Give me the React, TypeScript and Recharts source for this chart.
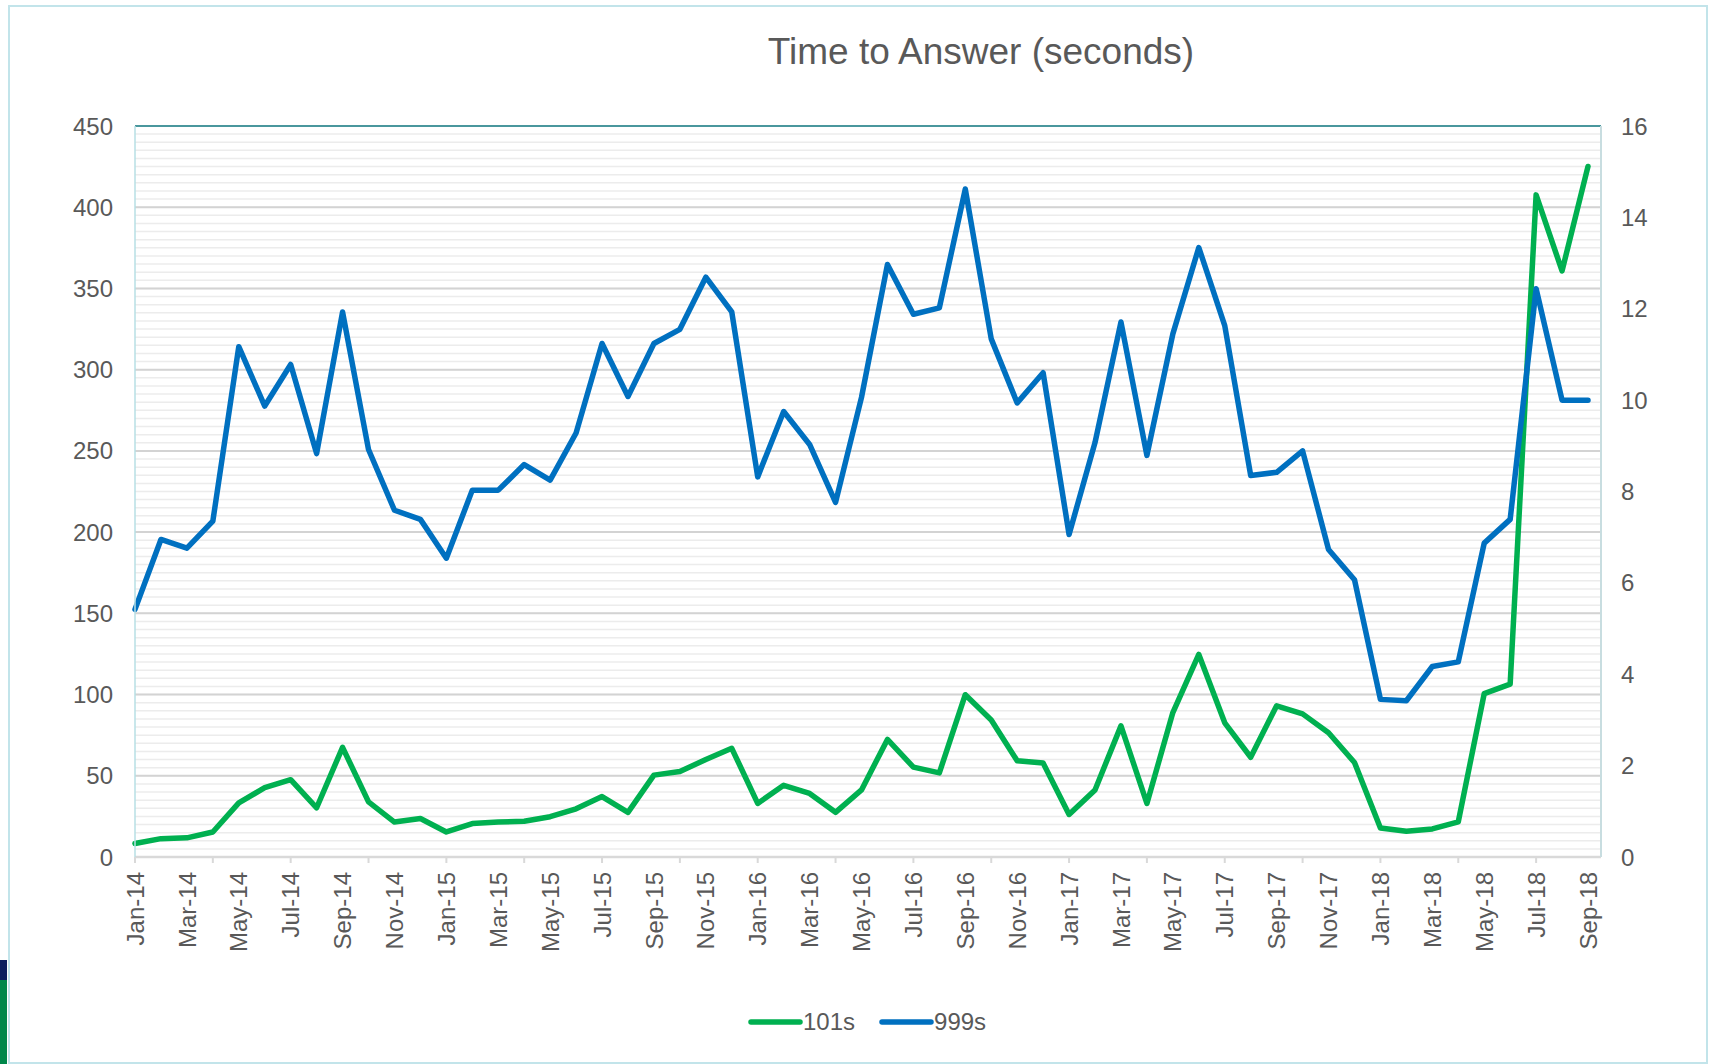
import React from "react";
import { CartesianGrid, Line, LineChart, ReferenceLine, XAxis, YAxis } from "recharts";

const MONTHS = [
  "Jan-14", "Feb-14", "Mar-14", "Apr-14", "May-14", "Jun-14", "Jul-14", "Aug-14", "Sep-14", "Oct-14", "Nov-14", "Dec-14",
  "Jan-15", "Feb-15", "Mar-15", "Apr-15", "May-15", "Jun-15", "Jul-15", "Aug-15", "Sep-15", "Oct-15", "Nov-15", "Dec-15",
  "Jan-16", "Feb-16", "Mar-16", "Apr-16", "May-16", "Jun-16", "Jul-16", "Aug-16", "Sep-16", "Oct-16", "Nov-16", "Dec-16",
  "Jan-17", "Feb-17", "Mar-17", "Apr-17", "May-17", "Jun-17", "Jul-17", "Aug-17", "Sep-17", "Oct-17", "Nov-17", "Dec-17",
  "Jan-18", "Feb-18", "Mar-18", "Apr-18", "May-18", "Jun-18", "Jul-18", "Aug-18", "Sep-18",
];

// 101s, seconds (left axis)
const CALLS_101 = [
  8.3, 11.3, 11.8, 15.4, 33.3, 42.7, 47.6, 30.3, 67.5, 33.9, 21.5, 23.7,
  15.4, 20.6, 21.5, 22.0, 24.8, 29.7, 37.2, 27.5, 50.4, 52.6, 60.0, 66.9,
  33.0, 44.1, 39.1, 27.5, 41.3, 72.4, 55.3, 51.8, 99.9, 84.3, 59.2, 57.8,
  26.2, 41.3, 80.7, 33.0, 88.9, 124.7, 82.6, 61.4, 93.1, 88.1, 76.5, 58.2,
  17.8, 15.8, 17.3, 21.6, 100.6, 106.4, 407.6, 360.8, 425.1,
];

// 999s, seconds (right axis)
const CALLS_999 = [
  5.42, 6.95, 6.76, 7.35, 11.17, 9.87, 10.78, 8.83, 11.93, 8.92, 7.59, 7.39,
  6.54, 8.03, 8.03, 8.59, 8.25, 9.28, 11.24, 10.08, 11.24, 11.55, 12.69, 11.93,
  8.32, 9.75, 9.03, 7.76, 10.06, 12.97, 11.88, 12.02, 14.62, 11.34, 9.94, 10.6,
  7.06, 9.07, 11.71, 8.79, 11.45, 13.34, 11.63, 8.35, 8.42, 8.89, 6.73, 6.07,
  3.45, 3.42, 4.17, 4.27, 6.87, 7.39, 12.44, 10.0, 10.0,
];

const LEFT_TICKS = [0, 50, 100, 150, 200, 250, 300, 350, 400, 450];
const RIGHT_TICKS = [0, 2, 4, 6, 8, 10, 12, 14, 16];
const MINOR_TICKS = Array.from({ length: 91 }, (_, i) => i * 5);

const SERIES = [
  { key: "s101", name: "101s", color: "#00b050" },
  { key: "s999", name: "999s", color: "#0070c0" },
];

const FONT = "'Liberation Sans', Arial, sans-serif";
const TEXT = "#595959";

const data = MONTHS.map((m, i) => ({ month: m, s101: CALLS_101[i], s999: CALLS_999[i] }));

function minorLines({ yAxis }: any) {
  const scale = yAxis?.scale;
  if (!scale) return [];
  const f = typeof scale === "function" ? scale : (v: number) => scale.map(v);
  return MINOR_TICKS.map((v) => f(v)).filter((v) => typeof v === "number" && !isNaN(v));
}

function MonthTick(props: any) {
  const { x, y, payload } = props;
  const i = payload.index ?? props.index;
  return (
    <g>
      {i % 3 === 0 && <line x1={x} x2={x} y1={y} y2={y + 6} stroke="#d9d9d9" strokeWidth={2} />}
      {i % 2 === 0 && (
        <text
          transform={`translate(${x},${y + 15}) rotate(-90)`}
          textAnchor="end"
          dy="0.36em"
          fill={TEXT}
          fontSize={24}
          fontFamily={FONT}
        >
          {payload.value}
        </text>
      )}
    </g>
  );
}

export default function App() {
  return (
    <div style={{ position: "absolute", left: 0, top: 0, width: 1709, height: 1064, background: "#fff", overflow: "hidden" }}>
      <div style={{ position: "absolute", left: 8, top: 5, width: 1696, height: 1055, border: "2px solid #c2e4ea" }} />
      <div style={{ position: "absolute", left: 0, top: 960, width: 7, height: 20, background: "#0d1f5e" }} />
      <div style={{ position: "absolute", left: 0, top: 980, width: 7, height: 84, background: "#00874a" }} />

      <div
        style={{
          position: "absolute",
          left: 581,
          top: 33,
          width: 800,
          textAlign: "center",
          fontFamily: FONT,
          fontSize: 37,
          lineHeight: "37px",
          color: TEXT,
        }}
      >
        Time to Answer (seconds)
      </div>

      <div style={{ position: "absolute", left: 0, top: 0 }}>
        <LineChart width={1709} height={1064} data={data} margin={{ top: 126, right: 0, bottom: 0, left: 0 }}>
          <XAxis
            dataKey="month"
            interval={0}
            height={207}
            padding={{ left: 0, right: 13 }}
            axisLine={{ stroke: "#d9d9d9", strokeWidth: 2.5 }}
            tickLine={false}
            tickSize={0}
            tickMargin={0}
            tick={<MonthTick />}
          />
          <YAxis
            yAxisId="left"
            width={135}
            domain={[0, 450]}
            ticks={LEFT_TICKS}
            interval={0}
            axisLine={{ stroke: "#b7dfe5", strokeWidth: 1.5 }}
            tickLine={false}
            tickSize={0}
            tickMargin={22}
            tick={{ fill: TEXT, fontSize: 24, fontFamily: FONT }}
          />
          <YAxis
            yAxisId="right"
            orientation="right"
            width={108}
            domain={[0, 16]}
            ticks={RIGHT_TICKS}
            interval={0}
            axisLine={{ stroke: "#c8dde0", strokeWidth: 2 }}
            tickLine={false}
            tickSize={0}
            tickMargin={20}
            tick={{ fill: TEXT, fontSize: 24, fontFamily: FONT }}
          />
          <CartesianGrid
            yAxisId="left"
            vertical={false}
            stroke="#ececec"
            strokeWidth={1.5}
            horizontalCoordinatesGenerator={minorLines}
          />
          <CartesianGrid yAxisId="left" vertical={false} stroke="#d3d3d3" strokeWidth={2} />
          <ReferenceLine yAxisId="left" y={450} stroke="#4a979d" strokeWidth={2} />
          <Line
            yAxisId="left"
            type="linear"
            dataKey="s101"
            stroke={SERIES[0].color}
            strokeWidth={5.5}
            strokeLinejoin="round"
            strokeLinecap="round"
            dot={false}
            isAnimationActive={false}
          />
          <Line
            yAxisId="right"
            type="linear"
            dataKey="s999"
            stroke={SERIES[1].color}
            strokeWidth={5.5}
            strokeLinejoin="round"
            strokeLinecap="round"
            dot={false}
            isAnimationActive={false}
          />
        </LineChart>
      </div>

      <div
        style={{
          position: "absolute",
          left: 748,
          top: 1010,
          height: 24,
          display: "flex",
          alignItems: "center",
          fontFamily: FONT,
          fontSize: 24,
          lineHeight: "24px",
          color: TEXT,
        }}
      >
        {SERIES.map((s, i) => (
          <div key={s.key} style={{ display: "flex", alignItems: "center", marginRight: i === 0 ? 24 : 0 }}>
            <svg width={55} height={10} style={{ display: "block" }}>
              <line x1={3} x2={52} y1={5} y2={5} stroke={s.color} strokeWidth={5.5} strokeLinecap="round" />
            </svg>
            <span>{s.name}</span>
          </div>
        ))}
      </div>
    </div>
  );
}
